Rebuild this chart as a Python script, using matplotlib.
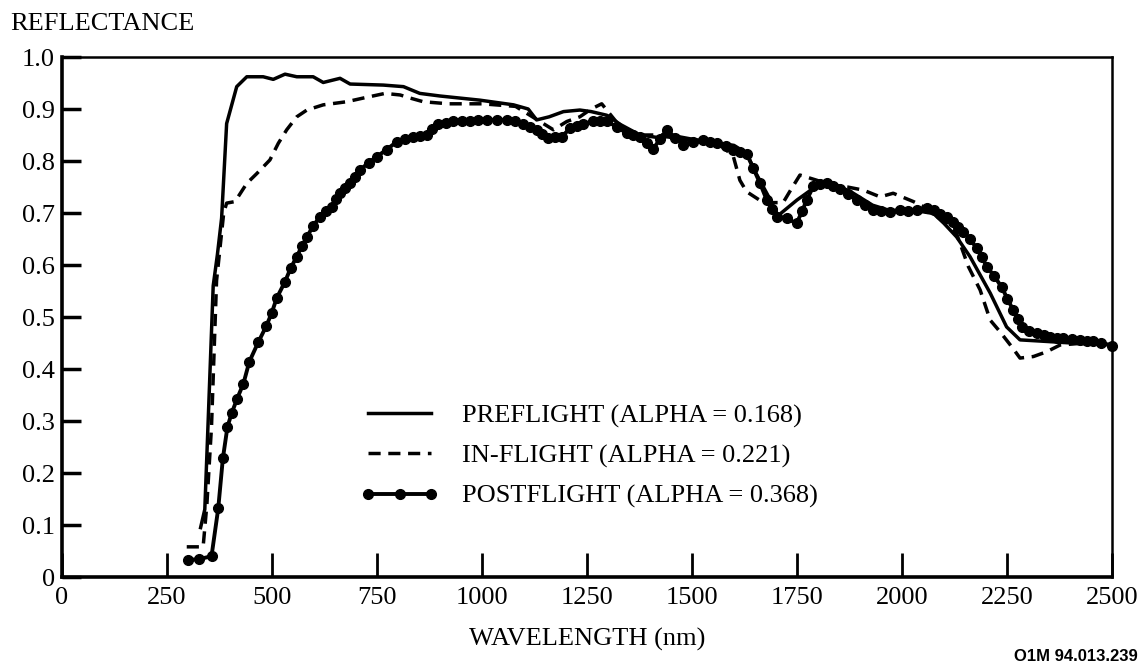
import numpy as np
import matplotlib
matplotlib.use('Agg')
import matplotlib.pyplot as plt

plt.rcParams['font.family'] = ['Liberation Serif', 'DejaVu Serif']

# preflight (solid)
pre_wl = [330, 340, 348, 360, 370, 380, 392, 416, 440, 479, 503, 531, 559, 598, 622, 662, 686,
          765, 813, 852, 900, 995, 1075, 1110, 1130, 1160, 1194, 1233, 1260, 1297, 1330, 1376,
          1420, 1460, 1500, 1560, 1600, 1630, 1650, 1680, 1705, 1750, 1800, 1840, 1880, 1930,
          1970, 2030, 2075, 2100, 2130, 2162, 2210, 2249, 2281, 2344, 2424, 2500]
pre_refl = [0.095, 0.13, 0.30, 0.56, 0.62, 0.69, 0.872, 0.943, 0.962, 0.962, 0.957, 0.967, 0.962,
            0.962, 0.951, 0.959, 0.948, 0.946, 0.943, 0.930, 0.925, 0.917, 0.908, 0.900, 0.879,
            0.885, 0.895, 0.898, 0.895, 0.888, 0.870, 0.850, 0.845, 0.848, 0.842, 0.835, 0.830,
            0.815, 0.780, 0.735, 0.695, 0.725, 0.754, 0.755, 0.740, 0.715, 0.705, 0.705, 0.699,
            0.680, 0.654, 0.616, 0.546, 0.481, 0.456, 0.453, 0.449, 0.447]

# in-flight (dashed)
inf_wl = [297, 336, 345, 356, 368, 385, 392, 412, 440, 464, 495, 515, 535, 559, 583, 622, 678,
          717, 769, 805, 829, 860, 920, 1000, 1080, 1130, 1170, 1202, 1233, 1260, 1285, 1300,
          1330, 1380, 1430, 1470, 1520, 1560, 1598, 1614, 1630, 1670, 1717, 1737, 1757, 1797,
          1829, 1870, 1908, 1948, 1979, 2027, 2059, 2100, 2130, 2158, 2186, 2210, 2233, 2261,
          2281, 2313, 2344, 2376, 2420, 2500]
inf_refl = [0.058, 0.058, 0.14, 0.29, 0.57, 0.70, 0.719, 0.722, 0.757, 0.776, 0.802, 0.834, 0.860,
            0.885, 0.898, 0.908, 0.914, 0.921, 0.930, 0.927, 0.921, 0.914, 0.910, 0.910, 0.905,
            0.880, 0.860, 0.876, 0.885, 0.900, 0.910, 0.895, 0.865, 0.850, 0.850, 0.840, 0.840,
            0.835, 0.810, 0.763, 0.741, 0.720, 0.720, 0.747, 0.773, 0.763, 0.754, 0.750, 0.744,
            0.731, 0.738, 0.722, 0.709, 0.685, 0.660, 0.597, 0.552, 0.494, 0.472, 0.443, 0.421,
            0.424, 0.433, 0.446, 0.449, 0.447]

# postflight (line + dots)
post_wl = [300, 325, 356, 372, 383, 394, 404, 417, 432, 446, 467, 486, 499, 511, 531, 545, 559,
           571, 583, 598, 614, 628, 642, 652, 662, 674, 686, 698, 710, 730, 749, 773, 797, 816,
           836, 852, 868, 882, 896, 914, 932, 952, 971, 991, 1011, 1035, 1059, 1078, 1098, 1114,
           1130, 1144, 1158, 1174, 1190, 1210, 1225, 1241, 1265, 1280, 1297, 1321, 1345, 1360,
           1376, 1392, 1408, 1424, 1440, 1460, 1479, 1503, 1527, 1543, 1559, 1580, 1598, 1614,
           1630, 1646, 1662, 1678, 1690, 1702, 1725, 1749, 1762, 1773, 1789, 1805, 1821, 1836,
           1852, 1872, 1892, 1912, 1932, 1951, 1971, 1995, 2015, 2035, 2059, 2075, 2090, 2106,
           2122, 2134, 2146, 2162, 2178, 2190, 2202, 2220, 2237, 2251, 2265, 2275, 2285, 2303,
           2321, 2337, 2352, 2368, 2384, 2404, 2424, 2440, 2455, 2473, 2500]
post_refl = [0.033, 0.034, 0.040, 0.132, 0.228, 0.289, 0.315, 0.343, 0.372, 0.414, 0.451, 0.482,
             0.507, 0.536, 0.568, 0.595, 0.616, 0.636, 0.654, 0.675, 0.693, 0.703, 0.712, 0.726,
             0.738, 0.748, 0.757, 0.770, 0.783, 0.797, 0.808, 0.822, 0.837, 0.842, 0.847, 0.849,
             0.850, 0.861, 0.872, 0.874, 0.876, 0.876, 0.876, 0.878, 0.879, 0.879, 0.879, 0.876,
             0.872, 0.866, 0.860, 0.852, 0.844, 0.846, 0.847, 0.863, 0.868, 0.872, 0.876, 0.876,
             0.876, 0.866, 0.853, 0.850, 0.847, 0.835, 0.824, 0.842, 0.860, 0.845, 0.831, 0.836,
             0.840, 0.837, 0.834, 0.828, 0.821, 0.818, 0.814, 0.786, 0.757, 0.725, 0.708, 0.693,
             0.690, 0.680, 0.703, 0.725, 0.751, 0.755, 0.757, 0.752, 0.747, 0.736, 0.725, 0.715,
             0.706, 0.703, 0.702, 0.706, 0.704, 0.705, 0.709, 0.705, 0.699, 0.692, 0.683, 0.674,
             0.664, 0.650, 0.632, 0.615, 0.597, 0.578, 0.558, 0.535, 0.513, 0.497, 0.481, 0.474,
             0.469, 0.465, 0.462, 0.460, 0.459, 0.457, 0.456, 0.454, 0.453, 0.450, 0.445]

labels = ['PREFLIGHT (ALPHA = 0.168)', 'IN-FLIGHT (ALPHA = 0.221)', 'POSTFLIGHT (ALPHA = 0.368)']
xticks = [0, 250, 500, 750, 1000, 1250, 1500, 1750, 2000, 2250, 2500]
yticks = [0, 0.1, 0.2, 0.3, 0.4, 0.5, 0.6, 0.7, 0.8, 0.9, 1.0]
ytick_labels = ['0', '0.1', '0.2', '0.3', '0.4', '0.5', '0.6', '0.7', '0.8', '0.9', '1.0']

fs = 19

fig = plt.figure(figsize=(11.39, 6.64), dpi=100)
ax = fig.add_axes([62 / 1139, 87 / 664, 1050 / 1139, 520 / 664])

ax.plot(pre_wl, pre_refl, color='black', lw=2.5, label=labels[0])
ax.plot(inf_wl, inf_refl, color='black', lw=2.5, dashes=(3.5, 2.2), label=labels[1])
ax.plot(post_wl, post_refl, color='black', lw=2.8, marker='o', ms=7, label=labels[2],
        clip_on=False)

ax.set_xlim(0, 2500)
ax.set_ylim(0, 1.0)
ax.set_xticks(xticks)
ax.set_xticklabels([str(t) for t in xticks])
ax.set_yticks(yticks)
ax.set_yticklabels(ytick_labels)
ax.tick_params(axis='x', direction='in', length=17, width=2, labelsize=fs, pad=7)
ax.tick_params(axis='y', direction='in', length=14, width=2.5, labelsize=fs, pad=5)

for side in ['left', 'bottom']:
    ax.spines[side].set_linewidth(2.6)
for side in ['top', 'right']:
    ax.spines[side].set_linewidth(1.8)

ax.set_xlabel('WAVELENGTH (nm)', fontsize=fs, labelpad=14)
fig.text(10 / 1139, 1 - 30 / 664, 'REFLECTANCE', fontsize=fs, ha='left', va='baseline')

leg = ax.legend(loc='upper left', bbox_to_anchor=(0.284, 0.333), frameon=False, fontsize=fs,
                handlelength=3.0, handletextpad=0.85, labelspacing=0.62, numpoints=3,
                borderaxespad=0, borderpad=0)

fig.text(1 - 1 / 1139, 1 - 661 / 664, 'O1M 94.013.239', fontsize=12, fontweight='bold',
         family='Liberation Sans', ha='right', va='baseline')

plt.savefig('out.png', dpi=100)
